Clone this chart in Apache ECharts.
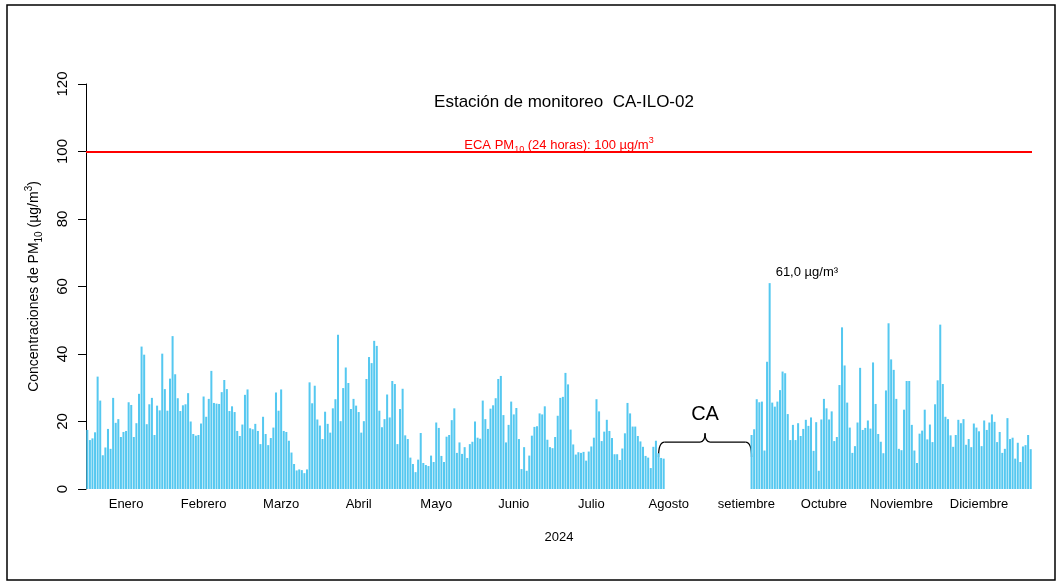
<!DOCTYPE html>
<html><head><meta charset="utf-8">
<script src="https://cdn.jsdelivr.net/npm/echarts@6/dist/echarts.min.js"></script>
<style>html,body{margin:0;padding:0;background:#fff}#c{width:1063px;height:586px}</style>
</head><body><div id="c"></div>
<script>
// ---- data (PM10 daily, 2024) ----
const monthNames = ['Enero','Febrero','Marzo','Abril','Mayo','Junio','Julio','Agosto','setiembre','Octubre','Noviembre','Diciembre'];
const ene = [17.5,14.5,15,16.8,33.3,26.2,10,12.3,17.8,11.9,27,19.6,20.7,15.4,16.9,17.2,25.7,24.9,15.4,19.5,28.2,42.2,39.8,19.2,25.1,27,16,24.7,23.3,40.1,29.6];
const feb = [23.2,32.7,45.3,34,26.9,23.1,24.8,25.1,28.4,20,16.3,15.8,16,19.4,27.4,21.4,26.7,35,25.5,25.3,25.2,28.7,32.3,29.6,23.1,24.5,22.8,17.2,15.7];
const mar = [19.1,27.9,29.5,18,17.7,19.3,17.2,13.3,21.4,16.3,13,15.1,18.2,28.6,23.2,29.5,17.2,16.9,14.3,10.8,7.4,5.5,5.8,5.6,4.7,5.8,31.6,25.4,30.6,20.6,18.8];
const abr = [14.8,22.9,19.3,16.7,23.9,26.6,45.7,20.1,29.9,36,31.4,23.7,26.7,24.7,22.8,16.7,20.1,32.6,39.1,37.3,43.9,42.4,23.2,18.3,20.7,28,21.2,32,31.1,13.3];
const may = [23.7,29.7,15.9,14.8,9.3,7.4,5,8.7,16.6,7.7,7.1,6.8,9.9,8,19.7,18.1,9.8,8,15.5,16,20.4,23.9,10.7,13.8,10.4,12.4,9.2,13.3,14,20,15.2];
const jun = [14.9,26.2,20.7,17.8,23.8,24.8,26.9,32.6,33.5,21.9,13.8,19,25.9,22.1,24,14.8,5.9,12.4,5.4,9.9,15.8,18.4,18.6,22.4,22.1,24.5,14.6,12.4,12.1,15.4];
const jul = [21.7,27,27.3,34.4,31,17.6,13.2,10.2,10.9,10.7,11,8.4,11.1,12.6,15.2,26.6,23,14.2,17,20.5,17.2,15.1,10.3,10.3,8.6,12,16.5,25.5,22.4,18.5,18.5];
const ago = [15.7,14.1,12.5,9.8,9.3,6.2,12.5,14.3,10.6,9.2,9,null,null,null,null,null,null,null,null,null,null,null,null,null,null,null,null,null,null,null,null];
const sep = [null,null,null,null,null,null,null,null,null,null,null,null,null,16,17.7,26.6,25.7,25.9,11.4,37.7,61.0,25.6,24.4,25.9,29.3,34.8,34.3,22.2,14.5,19];
const oct = [14.5,19.5,15.7,17.8,20.5,18.7,21.2,11.3,19.8,5.4,20.6,26.7,23.9,20.6,23,14.2,15.4,30.8,47.9,36.6,25.6,18.2,10.7,12.7,19.7,35.9,17.5,18.1,20.3,17.9,37.5];
const nov = [25.2,16.3,14,10.6,29.2,49.1,38.4,35.3,26.7,11.9,11.5,23.5,32,32,19,11.4,7.7,16.4,17.3,23.5,14.7,19.1,13.9,25.1,32.2,48.7,31.1,21.4,20.7,15.9];
const dic = [12.5,16,20.5,19.5,20.7,13.1,14.8,12.4,19.4,18.2,17.1,12.7,20.3,17.5,19.7,22.1,19.9,13.9,16.9,10.7,11.9,21,14.8,15.2,9,13.7,8,12.6,13,16,11.8];
const months = [ene,feb,mar,abr,may,jun,jul,ago,sep,oct,nov,dic];
const ecaLimit = 100;
const yTicks = {min:0, max:120, step:20};
const gapStart = 221, gapEnd = 257; // days spanned by the "CA" bracket

// ---- build ----
const values = [].concat(...months);
const days = [];
months.forEach((m,mi)=>m.forEach((v,di)=>days.push((di+1)+'/'+(mi+1))));
const labelIdx = monthNames.map((_,k)=>15+30*k);
let peakIdx = 0; values.forEach((v,i)=>{ if(v!=null && v>values[peakIdx]) peakIdx=i; });
const F = '"Liberation Sans", Arial, Helvetica, sans-serif';
const barData = values.map((v,i)=> i===peakIdx ? {value:v, label:{show:true, position:'top', align:'left', offset:[6,0], distance:4, formatter:()=>v.toFixed(1).replace('.',',')+' µg/m³', color:'#000', fontSize:13, fontFamily:F}} : v);

const chart = echarts.init(document.getElementById('c'), null, {renderer:'canvas'});
chart.setOption({
  animation:false,
  backgroundColor:'#fff',
  grid:{left:86, top:84, width:946, height:405},
  title:{text:'Estación de monitoreo  CA-ILO-02', left:559, top:89, textAlign:'center',
    textStyle:{fontFamily:F, fontSize:17, fontWeight:'normal', color:'#000'}},
  xAxis:{type:'category', data:days, boundaryGap:true,
    axisLine:{show:false}, axisTick:{show:false}, splitLine:{show:false},
    axisLabel:{interval:(i)=>labelIdx.indexOf(i)>=0, formatter:(v,i)=>monthNames[labelIdx.indexOf(i)], fontFamily:F, fontSize:13, color:'#000', margin:9},
    name:'2024', nameLocation:'middle', nameGap:42, nameTextStyle:{fontFamily:F, fontSize:13, color:'#000'}},
  yAxis:{type:'value', min:yTicks.min, max:yTicks.max, interval:yTicks.step,
    axisLine:{show:true, lineStyle:{color:'#000', width:1}},
    axisTick:{show:true, length:8, lineStyle:{color:'#000'}},
    splitLine:{show:false},
    axisLabel:{rotate:90, fontFamily:F, fontSize:15, color:'#000', margin:16},
    name:'{a|Concentraciones de PM}{s|10}{a| (µg/m}{p|3}{a|)}', nameLocation:'middle', nameRotate:90, nameGap:42,
    nameTextStyle:{fontFamily:F, color:'#000', rich:{
      a:{fontFamily:F, fontSize:14, color:'#000', lineHeight:20, verticalAlign:'middle'},
      s:{fontFamily:F, fontSize:10, color:'#000', lineHeight:20, verticalAlign:'bottom'},
      p:{fontFamily:F, fontSize:10, color:'#000', lineHeight:20, verticalAlign:'top'}}}},
  series:[{type:'bar', data:barData, barCategoryGap:'22%', itemStyle:{color:'#55c8f0'},
    emphasis:{disabled:true}, silent:true,
    markLine:{silent:true, symbol:['none','none'], animation:false,
      lineStyle:{color:'#ff0000', width:2, type:'solid'},
      label:{show:true, position:'middle', distance:-3, formatter:'{a|ECA PM}{s|10}{a| (24 horas): '+ecaLimit+' µg/m}{p|3}',
        rich:{a:{fontFamily:F, fontSize:13, color:'#ff0000', lineHeight:18, verticalAlign:'middle'},
              s:{fontFamily:F, fontSize:9, color:'#ff0000', lineHeight:18, verticalAlign:'bottom'},
              p:{fontFamily:F, fontSize:9, color:'#ff0000', lineHeight:18, verticalAlign:'top'}}},
      data:[{yAxis:ecaLimit}]}}]
});

// bracket for the "CA" gap
const pL = chart.convertToPixel({gridIndex:0}, [gapStart, 13.9]);
const pR = chart.convertToPixel({gridIndex:0}, [gapEnd, 13.9]);
const yLow = chart.convertToPixel({gridIndex:0}, [gapStart, 9.5])[1];
const yPeak = chart.convertToPixel({gridIndex:0}, [gapStart, 16.5])[1];
const yText = chart.convertToPixel({gridIndex:0}, [gapStart, 22])[1];
const xl = pL[0], xr = pR[0], ym = pL[1], xc = (xl+xr)/2;
const st = {fill:'none', stroke:'#000', lineWidth:1.3};
chart.setOption({graphic:[
  {type:'rect', shape:{x:7, y:5, width:1048, height:575}, style:{fill:'none', stroke:'#000', lineWidth:1.5}, silent:true},
  {type:'bezierCurve', shape:{x1:xl, y1:yLow, x2:xl+6, y2:ym, cpx1:xl, cpy1:ym}, style:st, silent:true},
  {type:'line', shape:{x1:xl+6, y1:ym, x2:xc-5, y2:ym}, style:st, silent:true},
  {type:'bezierCurve', shape:{x1:xc-5, y1:ym, x2:xc, y2:yPeak, cpx1:xc, cpy1:ym}, style:st, silent:true},
  {type:'bezierCurve', shape:{x1:xc, y1:yPeak, x2:xc+5, y2:ym, cpx1:xc, cpy1:ym}, style:st, silent:true},
  {type:'line', shape:{x1:xc+5, y1:ym, x2:xr-6, y2:ym}, style:st, silent:true},
  {type:'bezierCurve', shape:{x1:xr-6, y1:ym, x2:xr, y2:yLow, cpx1:xr, cpy1:ym}, style:st, silent:true},
  {type:'text', x:xc, y:yText, style:{text:'CA', font:'20px '+F, fill:'#000', textAlign:'center', textVerticalAlign:'middle'}, silent:true}
]});
</script></body></html>
